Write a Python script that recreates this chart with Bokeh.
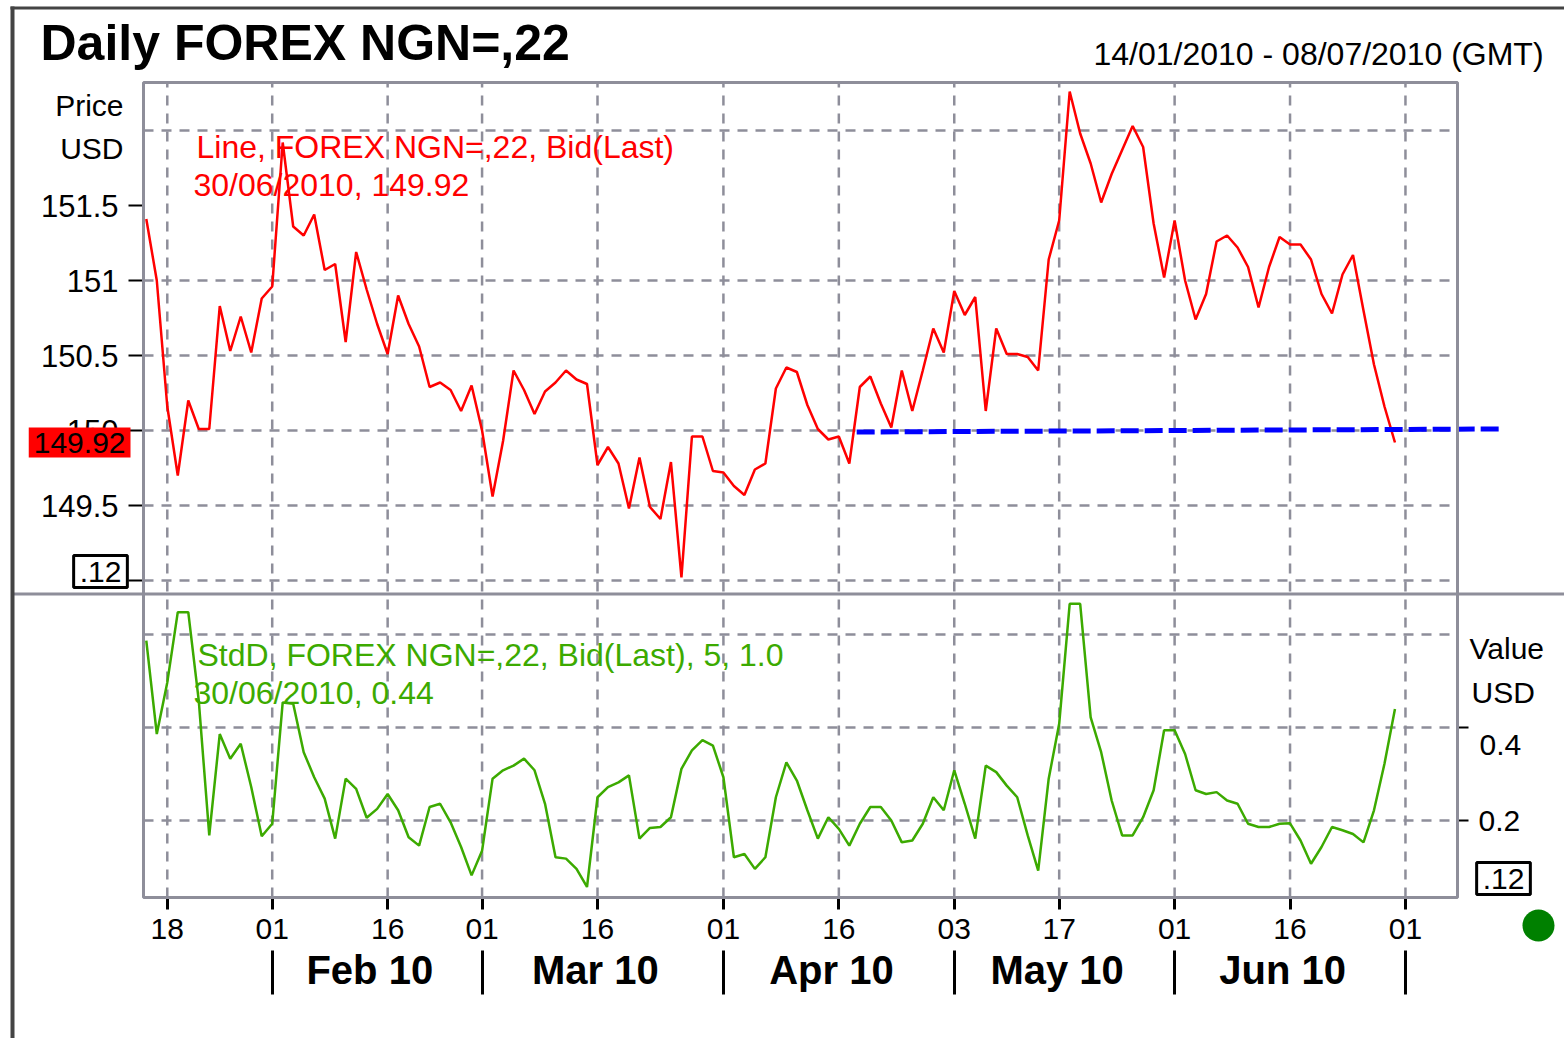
from bokeh.plotting import figure
from bokeh.models import (Range1d, LinearAxis, FixedTicker, Label, BoxAnnotation,
                          NumeralTickFormatter, Grid)
from bokeh.embed import file_html
from bokeh.resources import INLINE

# ---------------- data ----------------
price = [151.41, 151.00, 150.16, 149.70, 150.20, 150.01, 150.01, 150.83, 150.53, 150.76,
         150.52, 150.88, 150.96, 151.92, 151.36, 151.30, 151.44, 151.07, 151.11, 150.59,
         151.19, 150.94, 150.71, 150.51, 150.90, 150.71, 150.56, 150.29, 150.32, 150.27,
         150.13, 150.30, 150.00, 149.56, 149.93, 150.40, 150.27, 150.11, 150.26, 150.32,
         150.40, 150.34, 150.31, 149.77, 149.89, 149.78, 149.48, 149.82, 149.49, 149.41,
         149.79, 149.02, 149.96, 149.96, 149.73, 149.72, 149.63, 149.57, 149.74, 149.78,
         150.28, 150.42, 150.39, 150.17, 150.01, 149.94, 149.96, 149.78, 150.29, 150.36,
         150.18, 150.02, 150.40, 150.13, 150.40, 150.68, 150.52, 150.93, 150.77, 150.89,
         150.13, 150.68, 150.51, 150.51, 150.49, 150.40, 151.14, 151.40, 152.26, 151.98,
         151.78, 151.52, 151.71, 151.87, 152.03, 151.89, 151.38, 151.02, 151.40, 151.00,
         150.74, 150.91, 151.26, 151.30, 151.22, 151.09, 150.82, 151.09, 151.29, 151.24,
         151.24, 151.14, 150.91, 150.78, 151.04, 151.17, 150.80, 150.44, 150.16, 149.92]

stdd = [0.587, 0.386, 0.497, 0.648, 0.648, 0.458, 0.168, 0.386, 0.333, 0.365,
        0.272, 0.166, 0.193, 0.454, 0.451, 0.347, 0.293, 0.247, 0.161, 0.290,
        0.268, 0.206, 0.225, 0.257, 0.222, 0.164, 0.146, 0.229, 0.236, 0.196,
        0.143, 0.082, 0.135, 0.290, 0.308, 0.318, 0.333, 0.308, 0.236, 0.121,
        0.118, 0.096, 0.057, 0.250, 0.272, 0.282, 0.297, 0.161, 0.184, 0.186,
        0.207, 0.311, 0.351, 0.373, 0.361, 0.293, 0.121, 0.128, 0.096, 0.121,
        0.250, 0.325, 0.286, 0.222, 0.161, 0.207, 0.182, 0.146, 0.193, 0.229,
        0.229, 0.200, 0.153, 0.157, 0.193, 0.250, 0.222, 0.308, 0.236, 0.161,
        0.318, 0.304, 0.275, 0.250, 0.168, 0.092, 0.290, 0.408, 0.666, 0.666,
        0.422, 0.347, 0.243, 0.168, 0.168, 0.207, 0.265, 0.394, 0.394, 0.343,
        0.265, 0.257, 0.261, 0.243, 0.236, 0.193, 0.186, 0.186, 0.193, 0.194,
        0.157, 0.107, 0.143, 0.186, 0.179, 0.171, 0.153, 0.222, 0.322, 0.440]

days = list(range(len(price)))          # trading-day index, 0 = 14/01/2010

day_ticks = [2, 12, 23, 32, 43, 55, 66, 77, 87, 98, 109, 120]
day_labels = ["18", "01", "16", "01", "16", "01", "16", "03", "17", "01", "16", "01"]
month_bounds = [12, 32, 55, 77, 98, 120]
month_names = ["Feb 10", "Mar 10", "Apr 10", "May 10", "Jun 10"]

price_ticks = [149.0, 149.5, 150.0, 150.5, 151.0, 151.5]
price_grid = [149.0, 149.5, 150.0, 150.5, 151.0, 152.0]
std_ticks = [0.2, 0.4]
std_grid = [0.2, 0.4, 0.6]

trend_x = [67.7, 128.9]
trend_y = [149.99, 150.01]

last_date = "30/06/2010"
last_price = price[-1]
last_std = stdd[-1]

# ---------------- layout helpers (page pixel -> data) ----------------
W, H = 1564, 1038
X0, DX = 145.8, 10.493
def X(px):
    return (px - X0) / DX
def P(py):
    return 150 + (430 - py) / 150.0
def S(py):
    return 0.2 + (820 - py) / 465.0

L_, R_, T_, B_, MID = 143, 1457, 82, 897, 592   # plot area and panel divider (page px)

GRID = "#8e8e9a"
FONT = "Liberation Sans"

p = figure(width=W, height=H,
           x_range=Range1d(X(0), X(W)), y_range=Range1d(P(H), P(0)),
           output_backend="svg", toolbar_location=None,
           x_axis_location=None, y_axis_location=None,
           min_border=0, min_border_left=0, min_border_right=0,
           min_border_top=0, min_border_bottom=0,
           background_fill_color="white", border_fill_color="white",
           outline_line_color=None)
p.title.visible = False
for r in list(p.center):
    if isinstance(r, Grid):
        r.visible = False
p.extra_y_ranges = {"std": Range1d(S(H), S(0))}

# ---- grid lines (dashed) ----
nv = len(day_ticks)
p.segment(x0=day_ticks, y0=[P(B_)] * nv, x1=day_ticks, y1=[P(T_)] * nv,
          line_color=GRID, line_dash="10 8", line_width=2.5)
npg = len(price_grid)
p.segment(x0=[X(L_)] * npg, y0=price_grid, x1=[X(R_)] * npg, y1=price_grid,
          line_color=GRID, line_dash="10 8", line_width=2.5)
nsg = len(std_grid)
p.segment(x0=[X(L_)] * nsg, y0=std_grid, x1=[X(R_)] * nsg, y1=std_grid,
          line_color=GRID, line_dash="10 8", line_width=2.5, y_range_name="std")

# ---- axes (fixed at the plot-area edges) ----
common = dict(axis_line_color=None, minor_tick_out=0, minor_tick_in=0,
              major_label_text_font=FONT, major_label_text_color="black")

ya = LinearAxis(fixed_location=X(L_), ticker=FixedTicker(ticks=price_ticks),
                formatter=NumeralTickFormatter(format="0.[0]"),
                major_label_overrides={149.0: ""},
                major_tick_out=15, major_tick_in=0, major_tick_line_color="black",
                major_tick_line_width=2, major_label_standoff=10,
                major_label_text_font_size="31px", **common)
p.add_layout(ya, "left")

ra = LinearAxis(fixed_location=X(R_), y_range_name="std", ticker=FixedTicker(ticks=std_ticks),
                formatter=NumeralTickFormatter(format="0.0"), major_label_overrides={0.4: ""},
                major_tick_out=11, major_tick_in=0, major_tick_line_color="black",
                major_tick_line_width=2, major_label_standoff=10,
                major_label_text_font_size="30px", **common)
p.add_layout(ra, "right")

xa = LinearAxis(fixed_location=P(B_), ticker=FixedTicker(ticks=day_ticks),
                major_label_overrides={t: l for t, l in zip(day_ticks, day_labels)},
                major_tick_out=12, major_tick_in=0, major_tick_line_color="black",
                major_tick_line_width=3, major_label_standoff=9,
                major_label_text_font_size="30px", **common)
p.add_layout(xa, "below")

sep = LinearAxis(fixed_location=P(950), ticker=FixedTicker(ticks=month_bounds),
                 major_tick_out=44, major_tick_in=0, major_tick_line_color="black",
                 major_tick_line_width=3, major_label_text_color=None,
                 axis_line_color=None, minor_tick_out=0, minor_tick_in=0)
p.add_layout(sep, "below")

month_centers = [(a + b) / 2 - 0.7 for a, b in zip(month_bounds[:-1], month_bounds[1:])]
ma = LinearAxis(fixed_location=P(947), ticker=FixedTicker(ticks=month_centers),
                major_label_overrides={c: n for c, n in zip(month_centers, month_names)},
                major_tick_out=0, major_tick_in=0, major_tick_line_color=None,
                major_label_standoff=0, major_label_text_font_size="40px",
                major_label_text_font_style="bold", **common)
p.add_layout(ma, "below")

# ---- series ----
p.line(days, price, line_color="#ff0000", line_width=2.5)
p.line(trend_x, trend_y, line_color="#0000ff", line_width=5, line_dash="18 6")
p.line(days, stdd, line_color="#3caa00", line_width=2.5, y_range_name="std")

# ---- frame, divider, outer border, logo dot ----
p.add_layout(BoxAnnotation(left=X(L_), right=X(R_), top=P(T_), bottom=P(B_),
                           fill_alpha=0, line_color=GRID, line_alpha=1, line_width=3))
p.add_layout(BoxAnnotation(left=X(12), right=X(W + 5), top=P(MID), bottom=P(MID + 3),
                           fill_color=GRID, fill_alpha=1, line_color=None))
p.add_layout(BoxAnnotation(left=X(10), right=X(14), top=P(6), bottom=P(H + 5),
                           fill_color="#444444", fill_alpha=1, line_color=None))
p.add_layout(BoxAnnotation(left=X(10), right=X(W + 5), top=P(6), bottom=P(9),
                           fill_color="#444444", fill_alpha=1, line_color=None))
p.add_layout(BoxAnnotation(left=X(1522), right=X(1554), top=P(909), bottom=P(941),
                           border_radius=16, fill_color="#008000", fill_alpha=1, line_color=None))

def lab(x, y, text, size="32px", color="black", align="left", style="normal"):
    p.add_layout(Label(x=x, y=y, text=text, text_font=FONT, text_font_size=size,
                       text_color=color, text_align=align, text_baseline="middle",
                       text_font_style=style))

lab(X(40), P(42), "Daily FOREX NGN=,22", size="50px", style="bold")
lab(X(1093), P(53), "14/01/2010 - 08/07/2010 (GMT)", size="32px")
lab(X(123), P(105), "Price", size="30px", align="right")
lab(X(123), P(148), "USD", size="30px", align="right")
lab(X(1469), P(648), "Value", size="30px")
lab(X(1471), P(692), "USD", size="30px")
lab(X(1479), P(744), "0.4", size="30px")

lab(X(196), P(146), "Line, FOREX NGN=,22, Bid(Last)", color="#ff0000")
lab(X(193), P(184), f"{last_date}, {last_price:.2f}", color="#ff0000")
lab(X(197), P(654), "StdD, FOREX NGN=,22, Bid(Last), 5, 1.0", color="#3caa00")
lab(X(193), P(692), f"{last_date}, {last_std:.2f}", color="#3caa00")

p.add_layout(Label(x=X(130), y=last_price, text=f"{last_price:.2f}", text_font=FONT,
                   text_font_size="30px", text_color="black", text_align="right",
                   text_baseline="middle", background_fill_color="#ff0000",
                   background_fill_alpha=1, padding=5))
for bx, by in [(100, 571), (1503, 878)]:
    p.add_layout(Label(x=X(bx), y=P(by), text=".12", text_font=FONT, text_font_size="30px",
                       text_color="black", text_align="center", text_baseline="middle",
                       background_fill_color="white", background_fill_alpha=1,
                       border_line_color="black", border_line_width=3, padding=6))

open("out.html", "w").write(file_html(p, INLINE))
